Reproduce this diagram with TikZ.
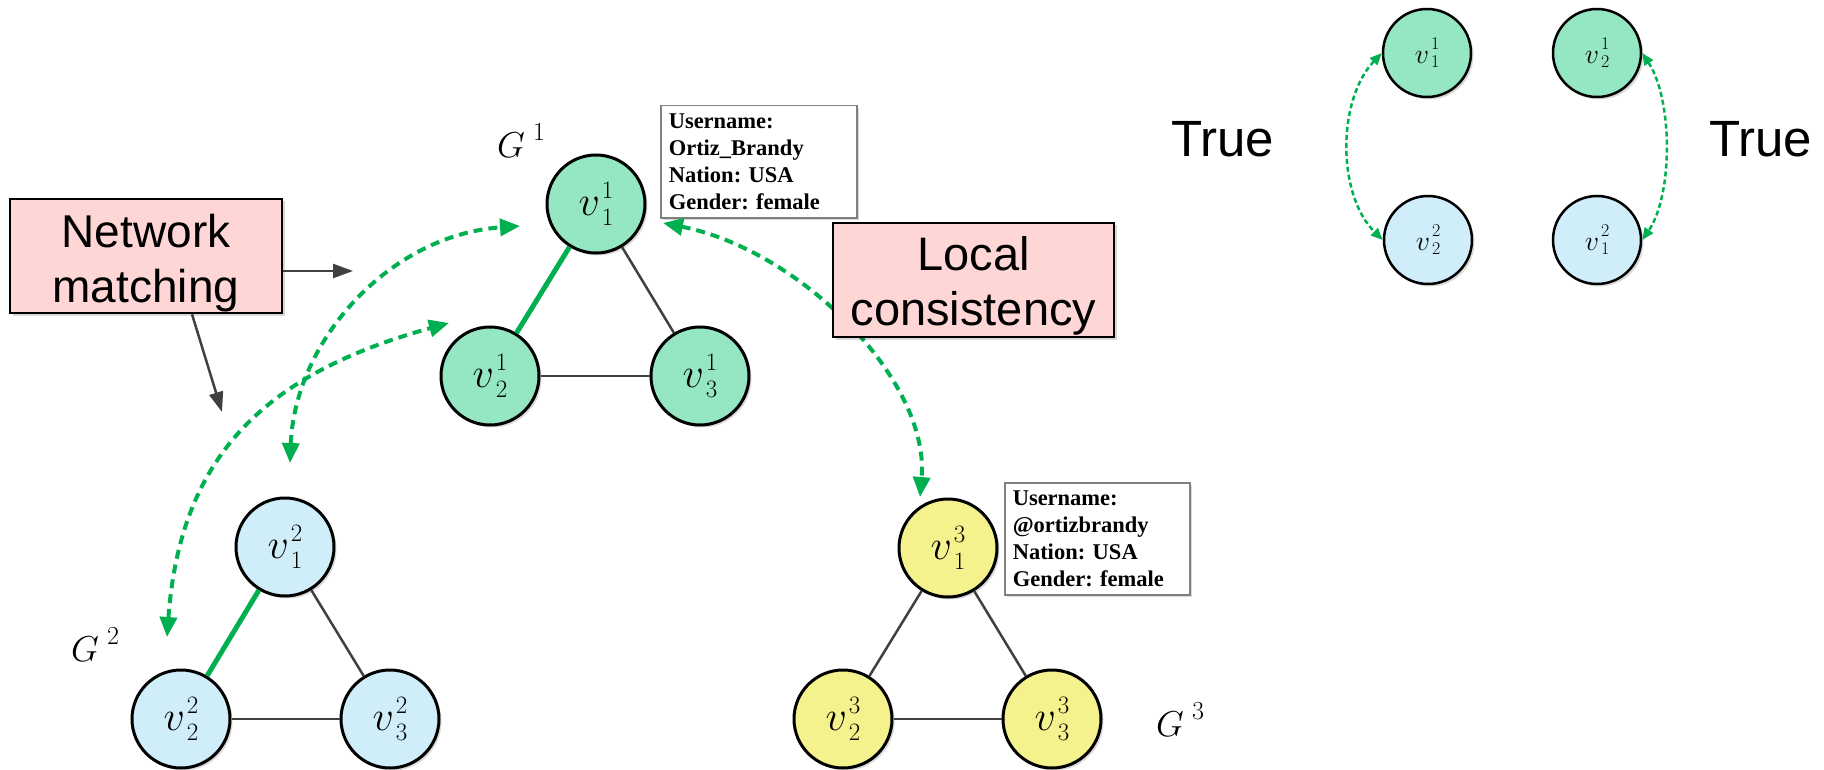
\RequirePackage{fix-cm}
\documentclass[tikz,border=0pt]{standalone}
\usepackage{fontspec}
\newfontfamily\arialf{Liberation Sans}
\newfontfamily\timesf{Liberation Serif}
\usetikzlibrary{arrows.meta,shadows}
\definecolor{mint}{RGB}{149,230,194}
\definecolor{lblue}{RGB}{208,237,250}
\definecolor{yel}{RGB}{243,242,140}
\definecolor{pinkbox}{RGB}{255,214,214}
\definecolor{garrow}{RGB}{0,176,80}
\definecolor{edgegray}{RGB}{64,64,64}
\newcommand{\glab}[1]{{\fontsize{36}{36}\selectfont$G$}\hspace{8pt}\raisebox{17pt}{\fontsize{26}{26}\selectfont #1}}
% v with stacked upright sub- and superscript
% #1 sub, #2 sup, #3 v size, #4 digit size, #5 raise of sup, #6 drop of sub
\newcommand{\vlab}[6]{{\fontsize{#3}{#3}\selectfont$v$}\kern2pt{\fontsize{#4}{#4}\selectfont\makebox[0pt][l]{\raisebox{-#6}{#1}}\raisebox{#5}{#2}}}
\newcommand{\bv}[2]{\vlab{#1}{#2}{42}{25}{17pt}{10pt}}
\newcommand{\sv}[2]{\vlab{#1}{#2}{28}{18}{14pt}{4pt}}
\frenchspacing
\begin{document}
\begin{tikzpicture}[x=1pt,y=-1pt,
  shad/.style={drop shadow={shadow xshift=2.5pt,shadow yshift=-2.5pt,fill=black,opacity=0.15}},
  bignode/.style={circle,draw=black,line width=3pt,minimum size=98pt,inner sep=0pt,shad},
  smallnode/.style={circle,draw=black,line width=2.5pt,minimum size=88pt,inner sep=0pt,shad},
  edgeg/.style={draw=edgegray,line width=2.5pt},
  edgegr/.style={draw=garrow,line width=5pt},
  matcharrow/.style={draw=garrow,line width=4pt,dash pattern=on 9pt off 6pt,{Triangle[length=20pt,width=17pt]}-{Triangle[length=20pt,width=17pt]}},
  smallarrow/.style={draw=garrow,line width=2.5pt,dash pattern=on 5pt off 3pt,{Triangle[length=12pt,width=10pt]}-{Triangle[length=12pt,width=10pt]}},
  grayarrow/.style={draw=edgegray,line width=2.5pt,-{Triangle[length=20pt,width=14pt]}},
  pbox/.style={draw=black,line width=2.5pt,fill=pinkbox,shad,inner sep=0pt},
  bigtext/.style={font=\arialf\fontsize{46}{55}\selectfont,align=center,inner sep=0pt},
  ubox/.style={draw=black!50,line width=1.5pt,fill=white,anchor=north west,inner xsep=8pt,inner ysep=8pt,align=left,font=\timesf\bfseries\fontsize{22.5}{27}\selectfont,shad},
  glabel/.style={anchor=base west,inner sep=0pt},
  truetext/.style={anchor=base west,inner sep=0pt,font=\arialf\fontsize{51}{51}\selectfont}
]
\useasboundingbox (0,0) rectangle (1824,770);

% ---- graph nodes
\node[bignode,fill=mint] (a1) at (596,204) {\bv{1}{1}};
\node[bignode,fill=mint] (a2) at (490,376) {\bv{2}{1}};
\node[bignode,fill=mint] (a3) at (700,376) {\bv{3}{1}};
\node[bignode,fill=lblue] (b1) at (285,547) {\bv{1}{2}};
\node[bignode,fill=lblue] (b2) at (181,719) {\bv{2}{2}};
\node[bignode,fill=lblue] (b3) at (390,719) {\bv{3}{2}};
\node[bignode,fill=yel] (c1) at (948,548) {\bv{1}{3}};
\node[bignode,fill=yel] (c2) at (843,719) {\bv{2}{3}};
\node[bignode,fill=yel] (c3) at (1052,719) {\bv{3}{3}};

% ---- edges
\draw[edgegr] (a1) -- (a2);
\draw[edgeg] (a1) -- (a3);
\draw[edgeg] (a2) -- (a3);
\draw[edgegr] (b1) -- (b2);
\draw[edgeg] (b1) -- (b3);
\draw[edgeg] (b2) -- (b3);
\draw[edgeg] (c1) -- (c2);
\draw[edgeg] (c1) -- (c3);
\draw[edgeg] (c2) -- (c3);

% ---- graph labels
\node[glabel] (g1) at (497,158) {\glab{1}};
\node[glabel] (g2) at (71,661) {\glab{2}};
\node[glabel] (g3) at (1156,736) {\glab{3}};

% ---- user info boxes
\node[ubox,text width=180pt] (u1) at (660,105) {Username:\\Ortiz\_Brandy\\Nation: USA\\Gender: female};
\node[ubox,text width=169pt] (u2) at (1004,482) {Username:\\@ortizbrandy\\Nation: USA\\Gender: female};

% ---- matching arrows
\coordinate (m1a) at (167,637);
\coordinate (m1b) at (449,323);
\coordinate (m2a) at (290,463);
\coordinate (m2b) at (520,226);
\coordinate (m3a) at (663,223);
\coordinate (m3b) at (920,497);
\draw[matcharrow] (m1a) .. controls (180,460) and (260,375) .. (m1b);
\draw[matcharrow] (m2a) .. controls (295,340) and (390,235) .. (m2b);
\draw[matcharrow] (m3a) .. controls (800,250) and (930,380) .. (m3b);

% ---- label boxes
\node[pbox,minimum width=272pt,minimum height=114pt] (nm) at (146,256) {};
\node[bigtext] (nmt) at (146,263) {Network\\matching};
\node[pbox,minimum width=281pt,minimum height=114pt] (lc) at (973.5,280) {};
\node[bigtext,font=\arialf\fontsize{47}{55}\selectfont] (lct) at (973.5,286) {Local\\consistency};

\coordinate (nmR) at (353,271);
\coordinate (nmD) at (222,412);
\draw[grayarrow] (nm.east |- nmR) -- (nmR);
\draw[grayarrow] ([xshift=46pt]nm.south) -- (nmD);

% ---- right panel
\node[smallnode,fill=mint] (r11) at (1427,53) {\sv{1}{1}};
\node[smallnode,fill=mint] (r21) at (1597,53) {\sv{2}{1}};
\node[smallnode,fill=lblue] (r22) at (1428,240) {\sv{2}{2}};
\node[smallnode,fill=lblue] (r12) at (1597,240) {\sv{1}{2}};
\draw[smallarrow] (r11.west) .. controls (1337,100) and (1337,195) .. (r22.west);
\draw[smallarrow] (r21.east) .. controls (1673,100) and (1673,195) .. (r12.east);
\node[truetext] (t1) at (1171,157) {True};
\node[truetext] (t2) at (1709,157) {True};
\end{tikzpicture}
\end{document}
